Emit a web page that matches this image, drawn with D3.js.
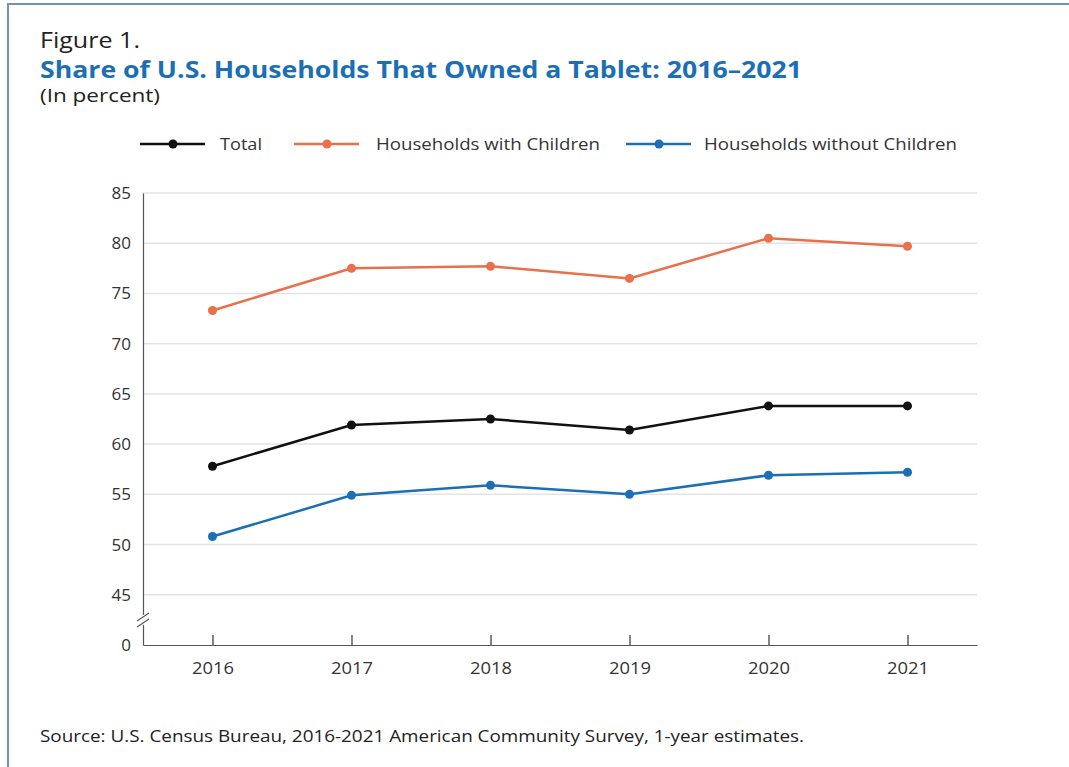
<!DOCTYPE html>
<html>
<head>
<meta charset="utf-8">
<script src="https://cdn.jsdelivr.net/npm/d3@7"></script>
<style>
  html, body { margin: 0; padding: 0; background: #fff; }
  svg { display: block; font-family: "Open Sans", "Lato", sans-serif; }
</style>
</head>
<body>
<svg id="chart" width="1069" height="767"></svg>
<script>
// Data
const years = ['2016', '2017', '2018', '2019', '2020', '2021'];
const totalValues = [57.8, 61.9, 62.5, 61.4, 63.8, 63.8];
const withChildrenValues = [73.3, 77.5, 77.7, 76.5, 80.5, 79.7];
const withoutChildrenValues = [50.8, 54.9, 55.9, 55.0, 56.9, 57.2];
const yTicks = [45, 50, 55, 60, 65, 70, 75, 80, 85];
const seriesNames = ['Total', 'Households with Children', 'Households without Children'];
const seriesColors = ['#111111', '#e8704a', '#1a6fb5'];

const series = [
    { name: seriesNames[0], values: totalValues, color: seriesColors[0] },
    { name: seriesNames[1], values: withChildrenValues, color: seriesColors[1] },
    { name: seriesNames[2], values: withoutChildrenValues, color: seriesColors[2] }
];

const svg = d3.select('#chart');
const W = 1069, H = 767;

// Stretch text to the width it has in the original (its font is wider)
function fit(sel, width) {
    sel.attr('textLength', width).attr('lengthAdjust', 'spacingAndGlyphs');
}

// Frame (top and left edge visible)
svg.append('path')
    .attr('d', `M8,${H} L8,4 L${W},4`)
    .attr('fill', 'none')
    .attr('stroke', '#7290bb')
    .attr('stroke-width', 2);

// Titles
svg.append('text').attr('x', 40).attr('y', 48)
    .attr('font-size', 21).attr('fill', '#222')
    .text('Figure 1.').call(fit, 100);
svg.append('text').attr('x', 40).attr('y', 78)
    .attr('font-size', 23).attr('font-weight', 700).attr('fill', '#1a6fb5')
    .text('Share of U.S. Households That Owned a Tablet: 2016\u20132021').call(fit, 762);
svg.append('text').attr('x', 40).attr('y', 102)
    .attr('font-size', 18).attr('fill', '#222')
    .text('(In percent)').call(fit, 120);

// Scales: bottom of axis stands for the break, labelled 0
const plotLeft = 143, plotRight = 977, plotTop = 193, plotBottom = 645;
const x = d3.scalePoint().domain(years).range([plotLeft, plotRight]).padding(0.5);
const y = d3.scaleLinear().domain([40, 85]).range([plotBottom, plotTop]);

// Gridlines
svg.append('g')
    .selectAll('line')
    .data(yTicks)
    .enter()
    .append('line')
    .attr('x1', plotLeft).attr('x2', plotRight)
    .attr('y1', d => y(d)).attr('y2', d => y(d))
    .attr('stroke', '#e3e3e3')
    .attr('stroke-width', 1.5);

// Y axis
const yAxis = svg.append('g')
    .attr('transform', `translate(${plotLeft},0)`)
    .call(d3.axisLeft(y).tickValues(yTicks.concat([40]))
        .tickFormat(d => d === 40 ? '0' : d).tickSize(0).tickPadding(12));
yAxis.select('.domain').attr('stroke', '#555').attr('stroke-width', 1.2);
yAxis.selectAll('text').attr('font-size', 17).attr('fill', '#333')
    .attr('font-family', '"Open Sans", sans-serif');

// Axis break marks
const bY = y(42.5);
svg.append('rect')
    .attr('x', plotLeft - 4).attr('y', bY - 5).attr('width', 8).attr('height', 10)
    .attr('fill', '#fff');
[-3, 3].forEach(off => {
    svg.append('line')
        .attr('x1', plotLeft - 6).attr('y1', bY + 4 + off)
        .attr('x2', plotLeft + 6).attr('y2', bY - 4 + off)
        .attr('stroke', '#555').attr('stroke-width', 1.2);
});

// X axis
const xAxis = svg.append('g')
    .attr('transform', `translate(0,${plotBottom})`)
    .call(d3.axisBottom(x).tickSize(-10).tickPadding(17).tickSizeOuter(0));
xAxis.select('.domain').attr('stroke', '#555').attr('stroke-width', 1.2);
xAxis.selectAll('.tick line').attr('stroke', '#333').attr('stroke-width', 1.2);
xAxis.selectAll('text').attr('font-size', 17).attr('fill', '#333')
    .attr('font-family', '"Open Sans", sans-serif')
    .call(fit, 42);

// Lines and points
const line = d3.line()
    .x((d, i) => x(years[i]))
    .y(d => y(d));

series.forEach(s => {
    svg.append('path')
        .datum(s.values)
        .attr('d', line)
        .attr('fill', 'none')
        .attr('stroke', s.color)
        .attr('stroke-width', 2.5);
    svg.append('g')
        .selectAll('circle')
        .data(s.values)
        .enter()
        .append('circle')
        .attr('cx', (d, i) => x(years[i]))
        .attr('cy', d => y(d))
        .attr('r', 4.5)
        .attr('fill', s.color);
});

// Legend
const legendX = [140, 294, 626];
const legendTextX = [80, 82, 78];
const legendTextW = [42, 224, 253];
const legend = svg.append('g')
    .selectAll('g')
    .data(series)
    .enter()
    .append('g')
    .attr('transform', (d, i) => `translate(${legendX[i]},144)`);
legend.append('line')
    .attr('x1', 0).attr('x2', 65).attr('y1', 0).attr('y2', 0)
    .attr('stroke', d => d.color).attr('stroke-width', 2.5);
legend.append('circle')
    .attr('cx', 33).attr('cy', 0).attr('r', 4.5)
    .attr('fill', d => d.color);
legend.append('text')
    .attr('x', (d, i) => legendTextX[i]).attr('y', 6)
    .attr('font-size', 17).attr('fill', '#333')
    .text(d => d.name)
    .each(function(d, i) { d3.select(this).call(fit, legendTextW[i]); });

// Source
svg.append('text').attr('x', 40).attr('y', 742)
    .attr('font-size', 16).attr('fill', '#222')
    .text('Source: U.S. Census Bureau, 2016-2021 American Community Survey, 1-year estimates.')
    .call(fit, 764);
</script>
</body>
</html>
